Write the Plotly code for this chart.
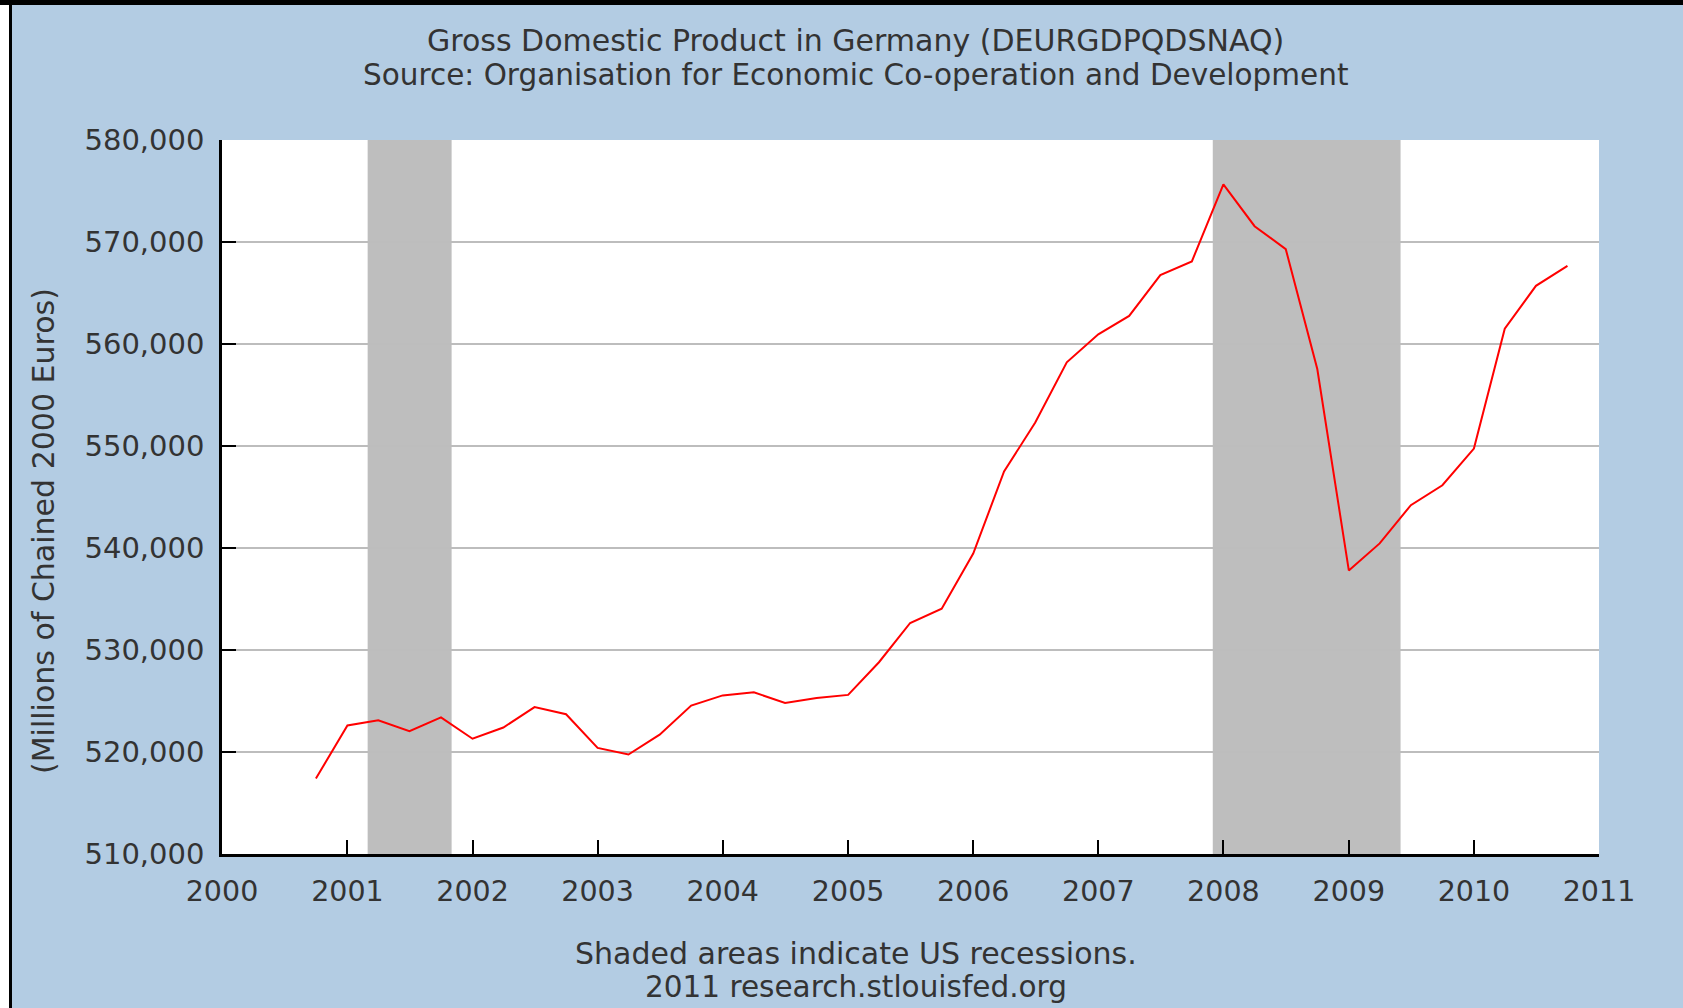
import plotly.graph_objects as go

# ---- data (quarterly, millions of chained 2000 euros) ----
dates = [
    "2000-10-01",
    "2001-01-01", "2001-04-01", "2001-07-01", "2001-10-01",
    "2002-01-01", "2002-04-01", "2002-07-01", "2002-10-01",
    "2003-01-01", "2003-04-01", "2003-07-01", "2003-10-01",
    "2004-01-01", "2004-04-01", "2004-07-01", "2004-10-01",
    "2005-01-01", "2005-04-01", "2005-07-01", "2005-10-01",
    "2006-01-01", "2006-04-01", "2006-07-01", "2006-10-01",
    "2007-01-01", "2007-04-01", "2007-07-01", "2007-10-01",
    "2008-01-01", "2008-04-01", "2008-07-01", "2008-10-01",
    "2009-01-01", "2009-04-01", "2009-07-01", "2009-10-01",
    "2010-01-01", "2010-04-01", "2010-07-01", "2010-10-01",
]
gdp = [
    517400,
    522600, 523100, 522050, 523400,
    521300, 522400, 524400, 523700,
    520400, 519750, 521700, 524550,
    525550, 525850, 524800, 525300,
    525600, 528800, 532650, 534050,
    539450, 547500, 552300, 558200,
    560950, 562750, 566750, 568100,
    575650, 571550, 569300, 557550,
    537800, 540450, 544200, 546150,
    549750, 561500, 565700, 567650,
]
recession_starts = ["2001-03-01", "2007-12-01"]
recession_ends = ["2001-11-01", "2009-06-01"]
year_ticks = [f"{y}-01-01" for y in range(2000, 2012)]
year_labels = [str(y) for y in range(2000, 2012)]
y_ticks = [510000, 520000, 530000, 540000, 550000, 560000, 570000, 580000]

title_lines = [
    "Gross Domestic Product in Germany (DEURGDPQDSNAQ)",
    "Source: Organisation for Economic Co-operation and Development",
]
y_title = "(Millions of Chained 2000 Euros)"
footer_lines = ["Shaded areas indicate US recessions.", "2011 research.stlouisfed.org"]

# ---- layout geometry ----
W, H = 1683, 1008
L, R, T, B = 222, 84, 140, 154
PW, PH = W - L - R, H - T - B

def px(x):
    return (x - L) / PW

def py(y):
    return (H - B - y) / PH

BG = "#B3CCE3"
TXT = "#333333"
FONT = "DejaVu Sans"

fig = go.Figure()
fig.add_trace(go.Scatter(
    x=dates, y=gdp, mode="lines",
    line=dict(color="#FF0000", width=2),
    hoverinfo="x+y",
))

shapes = []
for s, e in zip(recession_starts, recession_ends):
    shapes.append(dict(type="rect", xref="x", yref="paper", x0=s, x1=e, y0=0, y1=1,
                       fillcolor="#BEBEBE", line=dict(width=0), layer="between"))
# page frame details
shapes.append(dict(type="rect", xref="paper", yref="paper", x0=px(0), x1=px(9), y0=py(H), y1=py(0),
                   fillcolor="white", line=dict(width=0), layer="above"))
shapes.append(dict(type="rect", xref="paper", yref="paper", x0=px(9), x1=px(12), y0=py(H), y1=py(0),
                   fillcolor="black", line=dict(width=0), layer="above"))
shapes.append(dict(type="rect", xref="paper", yref="paper", x0=px(0), x1=px(W), y0=py(5), y1=py(0),
                   fillcolor="black", line=dict(width=0), layer="above"))

annotations = [
    dict(text=title_lines[0], x=px(855), y=py(40), size=30),
    dict(text=title_lines[1], x=px(855), y=py(75), size=29.5),
    dict(text=footer_lines[0], x=px(856), y=py(953), size=30),
    dict(text=footer_lines[1], x=px(856), y=py(987), size=29.5),
    dict(text=y_title, x=px(43), y=py(531), textangle=-90, size=30),
]
for a in annotations:
    sz = a.pop("size")
    a.update(xref="paper", yref="paper", showarrow=False, xanchor="center", yanchor="middle",
             font=dict(family=FONT, size=sz, color=TXT))

fig.update_layout(
    width=W, height=H,
    margin=dict(l=L, r=R, t=T, b=B, pad=0),
    paper_bgcolor=BG, plot_bgcolor="white",
    showlegend=False,
    shapes=shapes, annotations=annotations,
    font=dict(family=FONT, size=29, color=TXT),
)
fig.update_xaxes(
    type="date", range=["2000-01-01", "2011-01-01"],
    tickvals=year_ticks, ticktext=year_labels,
    ticks="inside", ticklen=14, tickwidth=2, tickcolor="black",
    showline=True, linecolor="black", linewidth=2.5,
    showgrid=False, zeroline=False,
    tickfont=dict(family=FONT, size=28.5, color=TXT),
    ticklabelstandoff=10,
)
fig.update_yaxes(
    range=[510000, 580000], tickvals=y_ticks, tickformat=",",
    ticks="inside", ticklen=14, tickwidth=2, tickcolor="black",
    showline=True, linecolor="black", linewidth=2.5,
    showgrid=True, gridcolor="#BDBDBD", gridwidth=2, zeroline=False,
    tickfont=dict(family=FONT, size=29, color=TXT),
    ticklabelstandoff=9,
)

fig.write_html("out.html", config={"displayModeBar": False},
               post_script="document.body.style.margin='0';document.body.style.overflow='hidden';")
